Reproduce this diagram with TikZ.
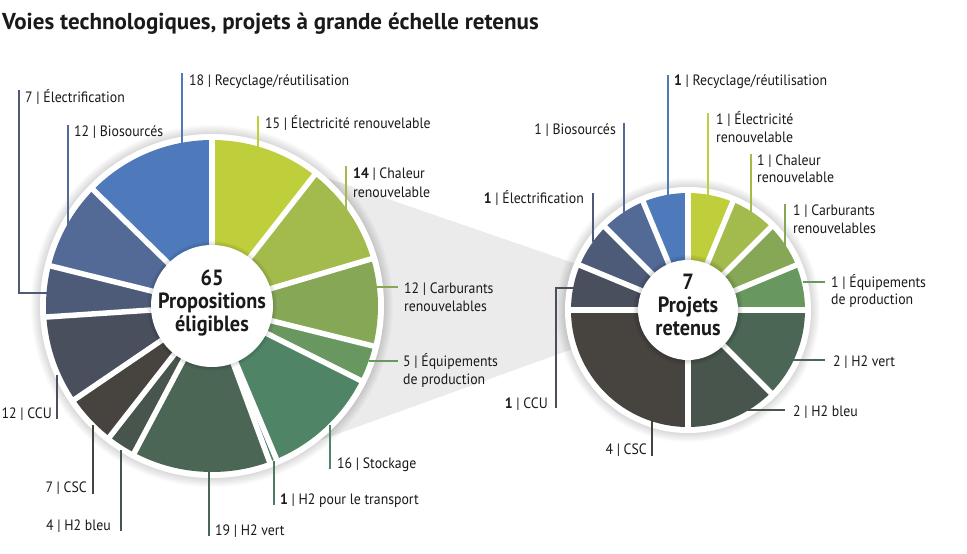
\documentclass[tikz,border=0pt]{standalone}
\usepackage{fontspec}
\setmainfont{PT Sans}[FakeStretch=0.92]
\newfontfamily\titlefont{PT Sans}
\usetikzlibrary{calc}
\definecolor{cRec}{HTML}{4E79BB}
\definecolor{cBio}{HTML}{536A97}
\definecolor{cEtr}{HTML}{4E5B78}
\definecolor{cCCU}{HTML}{4A4F5D}
\definecolor{cCSC}{HTML}{47433F}
\definecolor{cHb}{HTML}{48554C}
\definecolor{cHv}{HTML}{4C6655}
\definecolor{cHt}{HTML}{4E7B5F}
\definecolor{cSto}{HTML}{4F8566}
\definecolor{cEqu}{HTML}{689760}
\definecolor{cCar}{HTML}{86A756}
\definecolor{cCha}{HTML}{A3BB4C}
\definecolor{cEle}{HTML}{BFCE3B}
\definecolor{cFun}{HTML}{EBEBEB}
\definecolor{cTxt}{HTML}{1A1A1A}
\newcommand\labfont{\fontsize{15}{18}\selectfont}
\newcommand\ctrfont{\bfseries\fontsize{22}{23}\selectfont}
\begin{document}
\begin{tikzpicture}[x=1pt,y=-1pt,
  lab/.style={font=\labfont, text=cTxt, inner sep=0pt, text height=10.5pt, text depth=0pt, anchor=west},
  labr/.style={lab, anchor=east},
  lead/.style={line width=1.5pt},
  sep/.style={white, line width=5.5pt},
  ctr/.style={font=\ctrfont, text=cTxt, align=center, inner sep=0pt}]
\fill[white] (0,0) rectangle (967,554);
\useasboundingbox (0,0) rectangle (967,554);
\coordinate (CL) at (212,306);
\coordinate (CR) at (688,310);
% title
\node[font=\titlefont\bfseries\fontsize{23}{26}\selectfont, text=cTxt, anchor=base west, inner sep=0pt] (title) at (2,29) {Voies technologiques, projets à grande échelle retenus};
% funnel
\fill[cFun] (260,155) -- (600,272) -- (600,339) -- (260,462) -- cycle;
% shadows and white rings
\foreach \k in {1,...,9} {
  \fill[black, opacity=0.016] (CL) circle ({172+\k});
  \fill[black, opacity=0.016] (CR) circle ({123+\k});
}
\fill[white] (CL) circle (172);
\fill[white] (CR) circle (123);
% left sectors
\foreach \a/\b/\c in {0/15/cEle,15/29/cCha,29/41/cCar,41/46/cEqu,46/62/cSto,62/63/cHt,63/82/cHv,82/86/cHb,86/93/cCSC,93/105/cCCU,105/112/cEtr,112/124/cBio,124/142/cRec} {
  \fill[\c] (CL) -- ++({-90+\a*2.5352113}:166) arc[start angle={-90+\a*2.5352113}, end angle={-90+\b*2.5352113}, radius=166] -- cycle;
}
\foreach \a in {0,15,29,41,46,62,63,82,86,93,105,112,124} {
  \draw[sep] (CL) -- ++({-90+\a*2.5352113}:168);
}
% right sectors
\foreach \a/\b/\c in {0/1/cEle,1/2/cCha,2/3/cCar,3/4/cEqu,4/6/cHv,6/8/cHb,8/12/cCSC,12/13/cCCU,13/14/cEtr,14/15/cBio,15/16/cRec} {
  \fill[\c] (CR) -- ++({-90+\a*22.5}:117) arc[start angle={-90+\a*22.5}, end angle={-90+\b*22.5}, radius=117] -- cycle;
}
\foreach \a in {0,1,2,3,4,6,8,12,13,14,15} {
  \draw[sep] (CR) -- ++({-90+\a*22.5}:119);
}
% inner circles
\foreach \k in {1,...,5} {
  \fill[black, opacity=0.03] (CL) circle ({60+\k});
  \fill[black, opacity=0.03] (CR) circle ({50+\k});
}
\fill[white] (CL) circle (61);
\fill[white] (CR) circle (50);
\node[ctr] (cl) at (212,303) {65\\Propositions\\éligibles};
\node[ctr] (cr) at (688,305) {7\\Projets\\retenus};
% ---- left labels ----
\coordinate (a1) at (182,145); \coordinate (b1) at (182,73);
\draw[lead, cRec] (a1) -- (b1);
\node[lab] (t1) at (189,80) {18 | Recyclage/réutilisation};
\coordinate (a2) at (258,152); \coordinate (b2) at (258,116);
\draw[lead, cEle] (a2) -- (b2);
\node[lab] (t2) at (265,123) {15 | Électricité renouvelable};
\coordinate (a3) at (346,212); \coordinate (b3) at (346,166);
\draw[lead, cCha] (a3) -- (b3);
\node[lab] (t3) at (353,173) {\textbf{14} | Chaleur};
\node[lab] (t3b) at (353,192) {renouvelable};
\coordinate (a4) at (376,287); \coordinate (b4) at (398,287);
\draw[lead, cCar] (a4) -- (b4);
\node[lab] (t4) at (404,288) {12 | Carburants};
\node[lab] (t4b) at (404,306) {renouvelables};
\coordinate (a5) at (369,361); \coordinate (b5) at (398,361);
\draw[lead, cEqu] (a5) -- (b5);
\node[lab] (t5) at (403,361) {5 | Équipements};
\node[lab] (t5b) at (403,379) {de production};
\coordinate (a6) at (330,425); \coordinate (b6) at (330,469);
\draw[lead, cSto] (a6) -- (b6);
\node[lab] (t6) at (337,463) {16 | Stockage};
\coordinate (a7) at (274,461); \coordinate (b7) at (274,505);
\draw[lead, cHt] (a7) -- (b7);
\node[lab] (t7) at (280,499) {\textbf{1} | H2 pour le transport};
\coordinate (a8) at (209,470); \coordinate (b8) at (209,536);
\draw[lead, cHv] (a8) -- (b8);
\node[lab] (t8) at (215,530) {19 | H2 vert};
\coordinate (a9) at (121,450); \coordinate (b9) at (121,531);
\draw[lead, cHb] (a9) -- (b9);
\node[labr] (t9) at (111,525) {4 | H2 bleu};
\coordinate (a10) at (93,425); \coordinate (b10) at (93,494);
\draw[lead, cCSC] (a10) -- (b10);
\node[labr] (t10) at (87,487) {7 | CSC};
\coordinate (a11) at (57,375); \coordinate (b11) at (57,419);
\draw[lead, cCCU] (a11) -- (b11);
\node[labr] (t11) at (52,413) {12 | CCU};
\coordinate (a12) at (47,293); \coordinate (m12) at (19,293); \coordinate (b12) at (19,90);
\draw[lead, cEtr] (a12) -- (m12) -- (b12);
\node[lab] (t12) at (25,97) {7 | Électrification};
\coordinate (a13) at (68,225); \coordinate (b13) at (68,125);
\draw[lead, cBio] (a13) -- (b13);
\node[lab] (t13) at (74,131) {12 | Biosourcés};
% ---- right labels ----
\coordinate (r1) at (668,195); \coordinate (s1) at (668,75);
\draw[lead, cRec] (r1) -- (s1);
\node[lab] (u1) at (674,80) {\textbf{1} | Recyclage/réutilisation};
\coordinate (r2) at (708,197); \coordinate (s2) at (708,113);
\draw[lead, cEle] (r2) -- (s2);
\node[lab] (u2) at (716,119) {1 | Électricité};
\node[lab] (u2b) at (716,137) {renouvelable};
\coordinate (r3) at (751,214); \coordinate (s3) at (751,154);
\draw[lead, cCha] (r3) -- (s3);
\node[lab] (u3) at (757,160) {1 | Chaleur};
\node[lab] (u3b) at (757,177) {renouvelable};
\coordinate (r4) at (785,247); \coordinate (s4) at (785,204);
\draw[lead, cCar] (r4) -- (s4);
\node[lab] (u4) at (793,210) {1 | Carburants};
\node[lab] (u4b) at (793,228) {renouvelables};
\coordinate (r5) at (803,282); \coordinate (s5) at (825,282);
\draw[lead, cEqu] (r5) -- (s5);
\node[lab] (u5) at (831,282) {1 | Équipements};
\node[lab] (u5b) at (831,299) {de production};
\coordinate (r6) at (624,215); \coordinate (s6) at (624,123);
\draw[lead, cBio] (r6) -- (s6);
\node[labr] (u6) at (616,129) {1 | Biosourcés};
\coordinate (r7) at (593,242); \coordinate (s7) at (593,193);
\draw[lead, cEtr] (r7) -- (s7);
\node[labr] (u7) at (584,198) {\textbf{1} | Électrification};
\coordinate (r8) at (577,288); \coordinate (m8) at (556,288); \coordinate (s8) at (556,408);
\draw[lead, cCCU] (r8) -- (m8) -- (s8);
\node[labr] (u8) at (548,403) {\textbf{1} | CCU};
\coordinate (r9) at (652,420); \coordinate (s9) at (652,456);
\draw[lead, cCSC] (r9) -- (s9);
\node[labr] (u9) at (647,449) {4 | CSC};
\coordinate (r10) at (745,410); \coordinate (s10) at (785,410);
\draw[lead, cHb] (r10) -- (s10);
\node[lab] (u10) at (793,411) {2 | H2 bleu};
\coordinate (r11) at (793,360); \coordinate (s11) at (825,360);
\draw[lead, cHv] (r11) -- (s11);
\node[lab] (u11) at (833,361) {2 | H2 vert};
\end{tikzpicture}
\end{document}
